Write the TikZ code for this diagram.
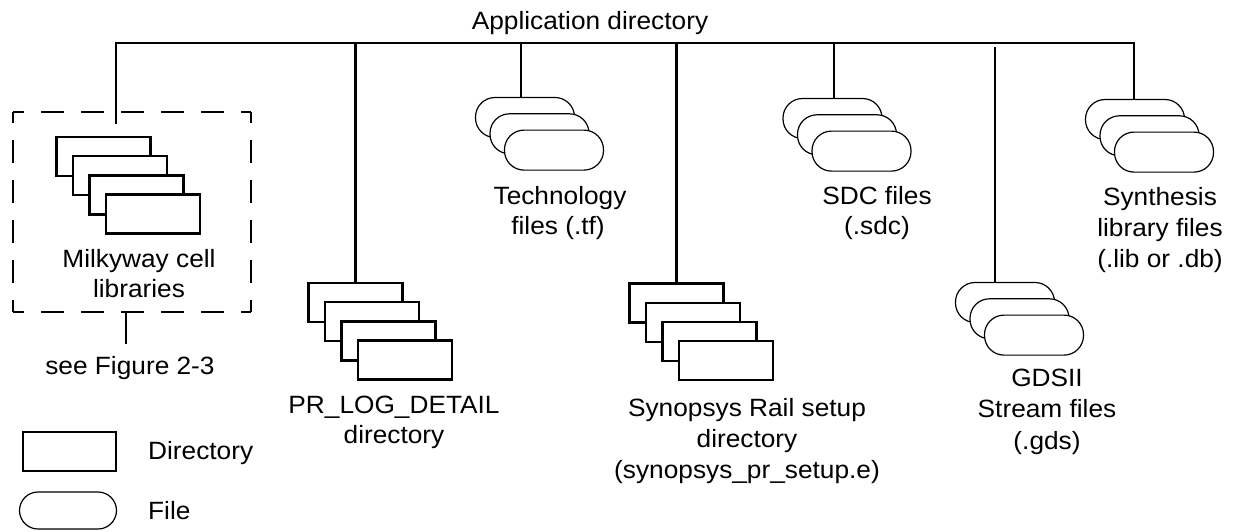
\documentclass[tikz,border=0pt]{standalone}
\usepackage{fontspec}
\setmainfont{Liberation Sans}[FakeStretch=1.05]

% four overlapping directory boxes, named <name>1 .. <name>4
\newcommand\dirstack[3]{%
  \foreach \i in {1,...,4}{%
    \node[dirbox] (#1\i) at ({#2+16.4*(\i-1)},{#3-19.2*(\i-1)}) {};}}
% three overlapping file shapes, named <name>1 .. <name>3
\newcommand\filestack[3]{%
  \foreach \i in {1,2,3}{%
    \node[filebox] (#1\i) at ({#2+14.5*(\i-1)},{#3-16.3*(\i-1)}) {};}}

\begin{document}
\begin{tikzpicture}[x=1pt,y=1pt,
  lbl/.style={inner sep=0pt, text height=18pt, text depth=0pt,
              font=\fontsize{25}{30}\selectfont},
  dirbox/.style={draw, fill=white, line width=2.4pt, minimum width=94pt,
                 minimum height=39pt, inner sep=0pt},
  filebox/.style={draw, fill=white, line width=1.2pt, rounded corners=19.5pt,
                  minimum width=99pt, minimum height=40pt, inner sep=0pt},
  wire/.style={line width=2.4pt},
  boxdash/.style={line width=2.4pt, dash pattern=on 23pt off 17pt, dash phase=12pt}
]
\useasboundingbox (0,0) rectangle (1234,-531);

% ---- top bus ----
\node[lbl] (app) at (590,-20.5) {Application directory};
\coordinate (bL) at (116,-43);
\coordinate (bR) at (1134,-43);
\coordinate (mwEnd) at (116,-124);

% ---- Milkyway cell libraries (dashed group) ----
\node[minimum width=238pt, minimum height=200pt, inner sep=0pt] (mwbox) at (132,-212) {};
\draw[boxdash] (mwbox.north west) -- (mwbox.north east);
\draw[boxdash] (mwbox.north east) -- (mwbox.south east);
\draw[boxdash] (mwbox.south west) -- (mwbox.south east);
\draw[boxdash] (mwbox.north west) -- (mwbox.south west);
\dirstack{mw}{103.5}{-156.5}
\node[lbl] (mwA) at (139,-258) {Milkyway cell};
\node[lbl] (mwB) at (139,-288) {libraries};
\coordinate (seeTop) at (126,-344);
\draw[wire] (mwbox.south -| seeTop) -- (seeTop);
\node[lbl] (see) at (130,-365) {see Figure 2-3};

% ---- PR_LOG_DETAIL directory ----
\dirstack{pr}{355.5}{-302.5}
\node[lbl] (prA) at (394,-404) {PR\_LOG\_DETAIL};
\node[lbl] (prB) at (394,-434) {directory};

% ---- Technology files ----
\filestack{tf}{525}{-117.5}
\coordinate (tfTap) at (521,-43);
\node[lbl] (tfA) at (560,-195) {Technology};
\node[lbl] (tfB) at (558,-225) {files (.tf)};

% ---- Synopsys Rail setup directory ----
\dirstack{sr}{676.5}{-303}
\node[lbl] (srA) at (747,-407) {Synopsys Rail setup};
\node[lbl] (srB) at (747,-438) {directory};
\node[lbl] (srC) at (747,-469) {(synopsys\_pr\_setup.e)};

% ---- SDC files ----
\filestack{sdc}{832.5}{-118.5}
\coordinate (sdcTap) at (834,-43);
\node[lbl] (sdcA) at (877,-195) {SDC files};
\node[lbl] (sdcB) at (877,-225) {(.sdc)};

% ---- GDSII Stream files ----
\filestack{gd}{1005}{-302.5}
\coordinate (gdTap) at (995,-47);
\node[lbl] (gdA) at (1047,-377) {GDSII};
\node[lbl] (gdB) at (1047,-408) {Stream files};
\node[lbl] (gdC) at (1047,-440) {(.gds)};

% ---- Synthesis library files ----
\filestack{syn}{1135}{-119.5}
\node[lbl] (synA) at (1160,-196) {Synthesis};
\node[lbl] (synB) at (1160,-227) {library files};
\node[lbl] (synC) at (1160,-258) {(.lib or .db)};

% ---- connectors ----
\draw[wire] (mwEnd) -- (bL) -- (bR) -- (bR |- syn1.north);
\draw[wire] (pr1.north |- bL) -- (pr1.north);
\draw[wire] (tfTap) -- (tfTap |- tf1.north);
\draw[wire] (sr1.north |- bL) -- (sr1.north);
\draw[wire] (sdcTap) -- (sdcTap |- sdc1.north);
\draw[wire] (gdTap) -- (gdTap |- gd1.north);

% ---- legend ----
\node[dirbox, minimum width=93pt] (legDir) at (69.5,-451.5) {};
\node[lbl, anchor=west] (legDirTxt) at (148,-450) {Directory};
\node[filebox, minimum width=97pt, minimum height=37pt, rounded corners=18.5pt] (legFile) at (68,-510.5) {};
\node[lbl, anchor=west] (legFileTxt) at (148,-510) {File};
\end{tikzpicture}
\end{document}
